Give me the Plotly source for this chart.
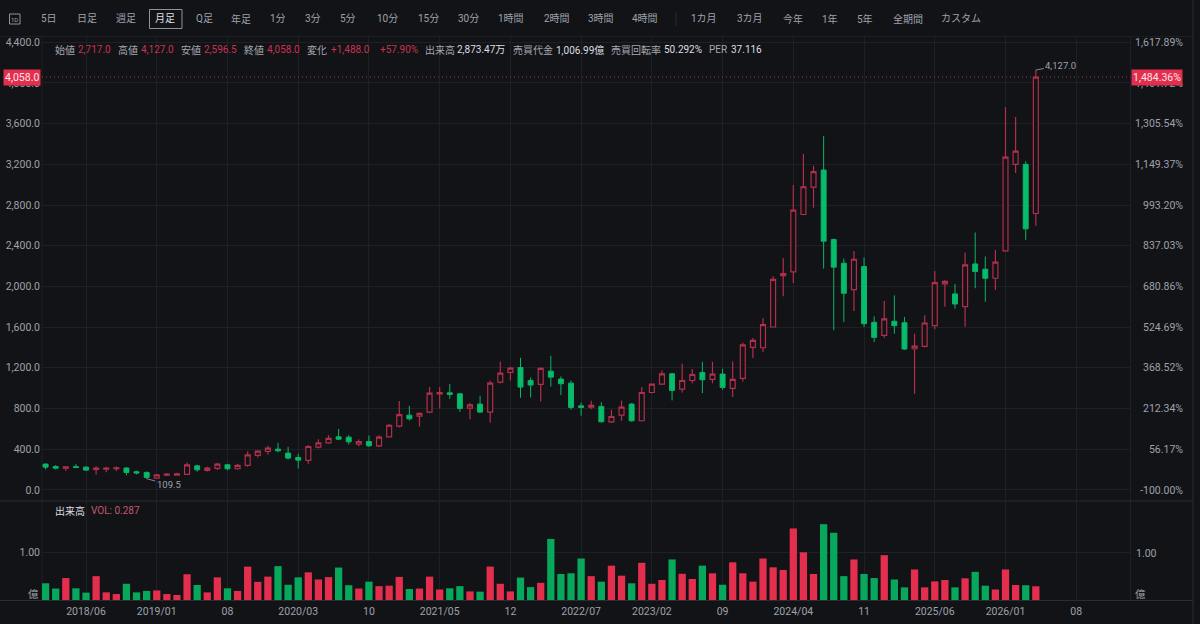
import plotly.graph_objects as go

months = [f"{y}/{m:02d}" for y in range(2018, 2027) for m in range(1, 13)][1:100]

opens = [253,230,213,228,223,200,203,207,214,178,171,116,145,145,151,236,191,210,246,207,
240,338,377,400,361,318,289,420,462,521,518,449,475,433,521,626,734,725,764,944,
954,944,803,843,764,1059,1154,1203,1075,1036,1167,1089,1049,826,813,820,669,734,843,679,
957,1039,1141,990,1075,1154,1085,1138,997,1095,1400,1397,1601,2106,2143,2707,2977,3144,2461,2228,
1968,2195,1647,1519,1657,1643,1387,1410,1614,2024,1926,1801,2221,2169,2080,2349,3200,3200,2717]
closes = [223,213,226,220,194,213,213,217,171,165,122,148,155,158,246,197,214,253,207,240,
344,380,410,384,312,292,426,462,505,498,472,475,433,518,635,740,698,751,951,957,
938,800,836,764,1049,1148,1197,1010,1030,1194,1108,1043,810,810,830,669,721,813,679,957,
1039,1141,977,1075,1134,1082,1138,1007,1085,1426,1469,1624,2070,2126,2750,2980,3128,2445,2189,1932,
2267,1634,1499,1680,1614,1384,1413,1640,2037,2050,1827,2212,2146,2080,2238,3272,3331,2566,4058]
highs = [258,243,233,253,233,233,227,230,224,187,181,155,165,168,269,246,227,266,256,256,
380,390,433,462,423,354,439,498,537,599,537,495,534,537,648,873,826,760,1010,1010,
1039,950,853,925,1072,1259,1210,1298,1105,1205,1318,1115,1075,859,875,862,787,879,855,1010,
1045,1174,1148,1239,1187,1259,1259,1190,1262,1449,1492,1689,2100,2280,2996,3302,3187,3479,2470,2274,
2349,2284,1706,1857,1912,1699,1535,1716,2152,2060,2024,2333,2530,2294,2359,3765,3666,3230,4127]
lows = [200,200,184,213,187,148,174,184,142,152,109.5,112,135,138,148,178,181,194,191,197,
227,318,344,370,298,210,256,406,452,491,446,429,423,420,514,613,682,623,754,800,
895,767,695,755,662,1046,1075,905,908,869,1016,931,787,728,793,662,656,679,669,672,
950,1030,879,957,1049,951,1049,984,912,1066,1295,1354,1595,1903,2034,2700,2773,2175,1568,1650,
1758,1601,1453,1492,1535,1375,944,1400,1578,1801,1781,1604,1982,1850,1965,2340,3115,2458,2596.5]
volumes = [.35,.24,.46,.245,.155,.50,.16,.125,.34,.16,.19,.20,.125,.105,.54,.315,.16,.475,.245,.19,
.70,.38,.49,.71,.32,.475,.58,.43,.48,.68,.31,.24,.385,.29,.30,.485,.23,.24,.49,.22,
.245,.29,.18,.175,.70,.34,.18,.47,.27,.36,1.28,.545,.56,.87,.50,.385,.72,.51,.35,.78,
.34,.42,.85,.55,.44,.72,.56,.32,.79,.56,.385,.87,.685,.63,1.50,1.00,.545,1.59,1.41,.50,
.85,.545,.46,.94,.43,.265,.64,.265,.39,.42,.265,.455,.59,.30,.22,.64,.315,.31,.287]

tick_index = [4,11,18,25,32,39,46,53,60,67,74,81,88,95,102]
tick_labels = ["2018/06","2019/01","08","2020/03","10","2021/05","12","2022/07","2023/02","09","2024/04","11","2025/06","2026/01","08"]
price_ticks = [0,400,800,1200,1600,2000,2400,2800,3200,3600,4000,4400]
pct_ticks = [-100.00,56.17,212.34,368.52,524.69,680.86,837.03,993.20,1149.37,1305.54,1461.72,1617.89]
toolbar = [("5日",49),("日足",87),("週足",126),("月足",165),("Q足",204),("年足",241),("1分",278),("3分",313),("5分",348),
           ("10分",387),("15分",428),("30分",468),("1時間",511),("2時間",557),("3時間",601),("4時間",645),
           ("1カ月",704),("3カ月",750),("今年",793),("1年",830),("5年",865),("全期間",908),("カスタム",961)]
LBL, RED, WHT = "#a4a8b0", "#c9324e", "#dcdee2"
info = [("始値",55,LBL),("2,717.0",78,RED),("高値",118,LBL),("4,127.0",141,RED),("安値",181,LBL),("2,596.5",204,RED),
        ("終値",244,LBL),("4,058.0",267,RED),("変化",307,LBL),("+1,488.0",331,RED),("+57.90%",380,RED),
        ("出来高",425,LBL),("2,873.47万",457,WHT),("売買代金",513,LBL),("1,006.99億",556,WHT),
        ("売買回転率",611,LBL),("50.292%",664,WHT),("PER",709,LBL),("37.116",731,WHT)]

W, H = 1200, 624
BG, GRID, EDGE, TXT = "#121317", "#1e2025", "#2a2c32", "#9ea2aa"
FONT = "Roboto, Noto Sans CJK JP, sans-serif"
idx = list(range(len(months)))
px = lambda v: v / W
py = lambda v: 1 - v / H
xr = [-0.356, 107.37]
dom = [px(42), px(1130.5)]
pr = [-100, 4457]
base = 4400 / (1617.89 + 100)
fig = go.Figure()
fig.add_trace(go.Candlestick(x=idx, open=opens, high=highs, low=lows, close=closes, xaxis="x", yaxis="y",
    increasing=dict(line=dict(color="#b12f4a", width=1.2), fillcolor=BG),
    decreasing=dict(line=dict(color="#0bb466", width=1.0), fillcolor="#05bd6a"), whiskerwidth=0, hoverinfo="skip"))
fig.add_trace(go.Scatter(x=idx, y=[c / base - 100 for c in closes], mode="lines", line=dict(width=0),
    opacity=0, xaxis="x", yaxis="y3", hoverinfo="skip"))
vcol = ["#e42e4e" if c >= o else "#07a85b" for o, c in zip(opens, closes)]
fig.add_trace(go.Bar(x=idx, y=volumes, marker=dict(color=vcol, line_width=0), xaxis="x2", yaxis="y2", hoverinfo="skip"))

ann = []
def t(text, x, y, color=TXT, size=10, anchor="center", **kw):
    ann.append(dict(text=text, x=px(x), y=py(y), xref="paper", yref="paper", showarrow=False,
                    xanchor=anchor, yanchor="middle", font=dict(color=color, size=size, family=FONT), **kw))
for s, x in toolbar:
    t(s, x, 18.5, color="#dfe1e5" if s == "月足" else TXT)
t("1D", 14.5, 19, size=6)
for s, x, c in info:
    t(s, x - 2, 49.5, color=c, anchor="left")
t("4,058.0", 21.5, 77, color="#fbe6ea", bgcolor="#e42e4e", borderpad=1, size=10.5)
t("1,484.36%", 1157, 77, color="#fbe6ea", bgcolor="#e42e4e", borderpad=1, size=10.5)
t("出来高", 53, 510.5, color=WHT, anchor="left")
t("VOL: 0.287", 89, 510.5, color="#c25a6c", anchor="left")
t("億", 33, 594, size=10.5)
t("億", 1140, 594, size=10.5)
t("1.00", 1134, 553, anchor="left", size=10.5)
for txt, xi, yv, ax, ay in [("4,127.0", 98, 4127, 25, -5), ("109.5", 10, 109.5, 22, 6)]:
    ann.append(dict(text=txt, x=xi, y=yv, xref="x", yref="y", ax=ax, ay=ay, showarrow=True, arrowhead=0,
                    arrowwidth=0.8, arrowcolor="#9ea2aa", standoff=0, font=dict(color=TXT, size=9.5, family=FONT)))

def rule(x0, y0, x1, y1, color=EDGE, w=1):
    return dict(type="line", xref="paper", yref="paper", x0=px(x0), y0=py(y0), x1=px(x1), y1=py(y1),
                line=dict(color=color, width=w), layer="below")
shapes = [rule(0, 36.5, 1193, 36.5, "#1c1e23"), rule(42, 36.5, 42, 600, GRID), rule(1130.5, 36.5, 1130.5, 600, GRID),
          rule(0, 501, 1193, 501), rule(0, 600.5, 1193, 600.5), rule(1193, 0, 1193, 624),
          rule(676, 12, 676, 26, "#2a2c32"),
          dict(type="line", xref="paper", yref="y", x0=px(42), x1=px(1130.5), y0=4058, y1=4058,
               line=dict(color="#a5344b", width=1, dash="1px,3px"), layer="above"),
          dict(type="rect", xref="paper", yref="paper", x0=px(149.5), x1=px(182), y0=py(9.5), y1=py(28.5),
               line=dict(color="#8e9299", width=1), layer="below"),
          dict(type="rect", xref="paper", yref="paper", x0=px(9.5), x1=px(20), y0=py(14), y1=py(24),
               line=dict(color="#8e9299", width=1), layer="below")]

tick = dict(color=TXT, size=10.5, family=FONT)
fig.update_layout(
    width=W, height=H, margin=dict(l=0, r=0, t=0, b=0), paper_bgcolor=BG, plot_bgcolor=BG, showlegend=False,
    bargap=0.28, annotations=ann, shapes=shapes,
    xaxis=dict(domain=dom, range=xr, anchor="y", tickvals=tick_index, ticktext=tick_labels, showticklabels=False,
               showgrid=True, gridcolor=GRID, zeroline=False, ticks="", rangeslider=dict(visible=False)),
    xaxis2=dict(domain=dom, range=xr, anchor="y2", matches="x", tickvals=tick_index, ticktext=tick_labels,
                showgrid=True, gridcolor=GRID, zeroline=False, ticks="", ticklabelstandoff=3,
                tickfont=dict(color=TXT, size=10.5, family=FONT)),
    yaxis=dict(domain=[py(500), py(36.5)], range=pr, tickvals=price_ticks, ticklabelstandoff=1,
               ticktext=[f"{v:,.1f}" for v in price_ticks], gridcolor=GRID, zeroline=False, tickfont=tick, anchor="x"),
    yaxis2=dict(domain=[py(600), py(502)], range=[0, 98 / 47.7], tickvals=[1], ticktext=["1.00"], gridcolor=GRID,
                ticklabelstandoff=1, zeroline=False, tickfont=tick, anchor="x2"),
    yaxis3=dict(overlaying="y", anchor="free", position=px(1183), side="left", range=[v / base - 100 for v in pr],
                tickvals=pct_ticks, ticktext=[f"{v:,.2f}%" for v in pct_ticks], showgrid=False, zeroline=False,
                tickfont=tick),
)
fig.write_html("out.html", config={"displayModeBar": False},
               post_script=f"document.body.style.margin='0';document.body.style.background='{BG}';")
